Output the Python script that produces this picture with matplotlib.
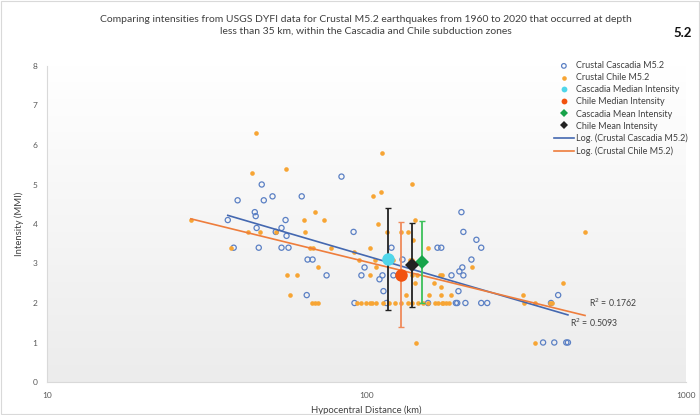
import numpy as np
import matplotlib.pyplot as plt
from matplotlib.colors import LinearSegmentedColormap
from matplotlib.patches import Rectangle

plt.rcParams['font.family'] = ['Lato', 'DejaVu Sans']

# Crustal Cascadia M5.2: hypocentral distance (km) and DYFI intensity (MMI)
cascadia_dist = [36.8, 38.4, 39.5, 44.7, 45.0, 45.3, 46.0, 47.0, 47.7, 50.8,
                 52.0, 54.2, 54.2, 55.8, 56.2, 57.0, 62.7, 65.0, 65.4, 67.8,
                 75.0, 83.5, 91.1, 91.7, 96.4, 98.6, 109.8, 112.2, 113.0, 115.5,
                 119.7, 121.4, 129.6, 155.8, 166.8, 171.4, 184.5, 190.4, 192.3, 194.0,
                 195.3, 199.5, 201.0, 198.2, 201.0, 204.0, 213.0, 220.8, 228.6, 228.6,
                 238.7, 378.0, 398.0, 357.0, 387.0, 422.0, 427.0]
cascadia_mmi = [4.1, 3.4, 4.6, 4.3, 4.2, 3.9, 3.4, 5.0, 4.6, 4.7,
                3.8, 3.9, 3.4, 4.1, 3.7, 3.4, 4.7, 2.2, 3.1, 3.1,
                2.7, 5.2, 3.8, 2.0, 2.7, 2.9, 2.6, 2.7, 2.3, 2.0,
                3.4, 2.7, 3.1, 2.0, 3.4, 3.4, 2.7, 2.0, 2.0, 2.3,
                2.8, 2.9, 2.7, 4.3, 3.8, 2.0, 3.1, 3.6, 3.4, 2.0,
                2.0, 2.0, 2.2, 1.0, 1.0, 1.0, 1.0]

# Crustal Chile M5.2
chile_dist = [28.2, 37.6, 42.5, 43.7, 45.0, 46.3, 52.0, 55.8, 56.2, 57.5,
              60.4, 63.6, 64.0, 66.4, 67.8, 68.8, 67.5, 69.0, 70.5, 70.3,
              73.4, 77.2, 91.1, 93.1, 94.4, 96.4, 99.3, 102.2, 102.2, 102.9,
              104.4, 105.1, 106.7, 107.4, 107.4, 109.0, 111.4, 112.2, 113.0, 116.3,
              118.0, 121.4, 123.2, 128.6, 128.6, 133.4, 134.4, 135.3, 137.3, 139.3,
              139.3, 139.3, 139.3, 140.2, 142.3, 142.3, 144.2, 145.4, 143.2, 150.7,
              156.3, 156.3, 157.4, 163.1, 164.4, 167.9, 170.3, 171.4, 171.4, 172.8,
              172.8, 174.1, 177.8, 181.6, 184.5, 214.3, 309.6, 311.9, 337.3, 375.8,
              381.3, 337.3, 413.0, 483.0]
chile_mmi = [4.1, 3.4, 3.8, 5.3, 6.3, 3.8, 3.8, 5.4, 2.7, 2.2,
             2.7, 4.1, 3.8, 3.4, 3.4, 4.3, 2.0, 2.0, 2.0, 2.9,
             4.1, 3.4, 3.3, 2.0, 3.1, 2.0, 2.0, 2.7, 2.0, 3.4,
             2.0, 4.7, 3.1, 2.9, 2.0, 4.0, 4.8, 5.8, 2.0, 3.8,
             2.0, 3.1, 2.0, 3.8, 2.0, 2.2, 2.0, 3.8, 3.1, 3.1,
             5.0, 2.7, 2.0, 3.6, 4.1, 2.5, 2.7, 2.0, 1.0, 2.0,
             3.4, 2.0, 2.2, 2.5, 2.0, 2.0, 2.7, 2.4, 2.2, 2.7,
             2.0, 2.0, 2.0, 2.0, 2.2, 2.9, 2.2, 2.0, 2.0, 2.0,
             2.0, 1.0, 2.5, 3.8]

# summary values: median / mean intensity with spread
stat_names = ['Cascadia Median Intensity', 'Chile Median Intensity',
              'Cascadia Mean Intensity', 'Chile Mean Intensity']
stat_dist = [116.4, 128.0, 148.8, 138.8]
stat_mmi = [3.11, 2.71, 3.04, 2.97]
stat_err = [1.29, 1.33, 1.03, 1.06]

r2_cascadia = 'R$^2$ = 0.5093'
r2_chile = 'R$^2$ = 0.1762'

fig = plt.figure(figsize=(7, 4.15), dpi=100)
ax = fig.add_axes([47 / 700, 1 - 382 / 415, (686 - 47) / 700, (382 - 66) / 415])

# soft vertical gradient behind the plot area
grad = LinearSegmentedColormap.from_list('bg', ['#ececec', '#ffffff'])
ax.imshow(np.linspace(0, 1, 256).reshape(-1, 1), extent=[0, 1, 0, 1],
          transform=ax.transAxes, aspect='auto', cmap=grad, origin='lower', zorder=0)

casc = ax.scatter(cascadia_dist, cascadia_mmi, s=14, facecolors='none',
                  edgecolors='#5b80c4', linewidths=0.9, zorder=3,
                  label='Crustal Cascadia M5.2')
chil = ax.scatter(chile_dist, chile_mmi, s=11, color='#f7a534', linewidths=0,
                  zorder=3, label='Crustal Chile M5.2')

# logarithmic trendlines over each series' range
def log_fit(x, y):
    x = np.asarray(x)
    k, b = np.polyfit(np.log(x), y, 1)
    xs = np.geomspace(x.min(), x.max(), 100)
    return xs, k * np.log(xs) + b

xs, ys = log_fit(cascadia_dist, cascadia_mmi)
tl_casc, = ax.plot(xs, ys, color='#4468b0', lw=1.2, zorder=4,
                   label='Log. (Crustal Cascadia M5.2)')
xs, ys = log_fit(chile_dist, chile_mmi)
tl_chil, = ax.plot(xs, ys, color='#ee7d3c', lw=1.2, zorder=4,
                   label='Log. (Crustal Chile M5.2)')

bar_colors = ['#222222', '#ef8a5a', '#3cc05a', '#222222']
marker_styles = [('o', '#4fd6ea', 9), ('o', '#f2520f', 9),
                 ('D', '#17a34a', 7), ('D', '#222222', 7)]
stat_handles = []
for i in range(4):
    ax.errorbar(stat_dist[i], stat_mmi[i], yerr=stat_err[i], fmt='none',
                ecolor=bar_colors[i], elinewidth=1.3, capsize=2.5,
                capthick=1.0, zorder=5)
    m, c, ms = marker_styles[i]
    h, = ax.plot(stat_dist[i], stat_mmi[i], linestyle='none', marker=m,
                 color=c, markersize=ms, markeredgewidth=0, zorder=6,
                 label=stat_names[i])
    stat_handles.append(h)

ax.text(497, 2.0, r2_chile, fontsize=6.3, color='#404040', va='center', zorder=6)
ax.text(434, 1.49, r2_cascadia, fontsize=6.3, color='#404040', va='center', zorder=6)

ax.set_xscale('log')
ax.set_xlim(10, 1000)
ax.set_ylim(0, 8)
ax.set_xticks([10, 100, 1000])
ax.set_xticklabels(['10', '100', '1000'])
ax.set_yticks(range(0, 9))
ax.minorticks_off()
ax.tick_params(length=0, labelsize=6, labelcolor='#595959', pad=7)
for side in ['top', 'right']:
    ax.spines[side].set_visible(False)
for side in ['left', 'bottom']:
    ax.spines[side].set_color('#d9d9d9')
    ax.spines[side].set_linewidth(0.8)

ax.set_xlabel('Hypocentral Distance (km)', fontsize=6.8, color='#404040', labelpad=5)
ax.set_ylabel('Intensity (MMI)', fontsize=6.8, color='#404040', labelpad=6)

handles = [casc, chil, stat_handles[0], stat_handles[1], stat_handles[2],
           stat_handles[3], tl_casc, tl_chil]
leg = ax.legend(handles=handles, loc='upper right', bbox_to_anchor=(1.012, 1.035),
                frameon=False, fontsize=6.5, labelspacing=0.34, handlelength=2.2,
                handletextpad=0.2, borderpad=0.2)
for t in leg.get_texts():
    t.set_color('#404040')
# keep all legend markers small
for lh in leg.legend_handles:
    if hasattr(lh, 'set_sizes'):
        lh.set_sizes([11])
    elif lh.get_marker() not in (None, 'None', ''):
        lh.set_markersize(4.2)

fig.text(366 / 700, 1 - 25 / 415,
         'Comparing intensities from USGS DYFI data for Crustal M5.2 earthquakes from 1960 to 2020 that occurred at depth\n'
         'less than 35 km, within the Cascadia and Chile subduction zones',
         ha='center', va='center', fontsize=7.5, color='#404040', linespacing=1.4)
fig.text(683 / 700, 1 - 33 / 415, '5.2', ha='center', va='center',
         fontsize=9.5, fontweight='bold', color='#111111')

fig.patches.append(Rectangle((0.002, 0.003), 0.996, 0.994, transform=fig.transFigure,
                             fill=False, edgecolor='#d9d9d9', linewidth=0.8))

fig.savefig('out.png', dpi=100, facecolor='white')
